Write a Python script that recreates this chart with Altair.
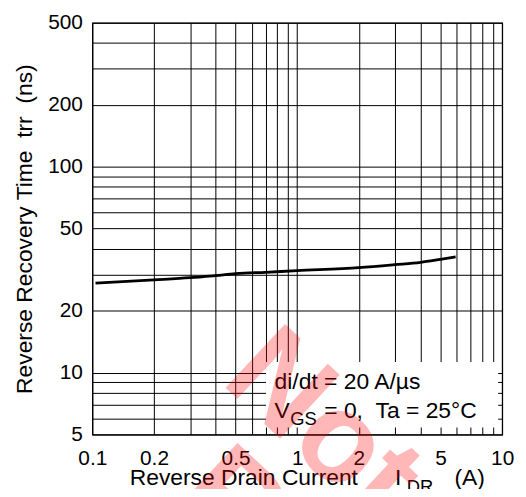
import altair as alt
import pandas as pd

# ---- data ----
x_current = [0.1036, 0.2, 0.3, 0.4, 0.5, 0.7, 1, 2, 3, 4, 5, 5.93]
y_trr = [27.2, 28.2, 28.9, 29.6, 30.2, 30.7, 31.25, 32.3, 33.4, 34.3, 35.5, 36.5]

x_grid = [0.1, 0.2, 0.3, 0.4, 0.5, 0.6, 0.7, 0.8, 0.9,
          1, 2, 3, 4, 5, 6, 7, 8, 9, 10]
y_grid = [5, 6, 7, 8, 9, 10, 20, 30, 40, 50, 60, 70, 80, 90,
          100, 200, 300, 400, 500]
x_labels = [0.1, 0.2, 0.5, 1, 2, 5, 10]
y_labels = [5, 10, 20, 50, 100, 200, 500]

FONT = "Liberation Sans"
W, H = 413, 415
TICK_FS = 21
TXT_FS = 23
SUB_FS = 18.5
NB = "\u00a0"

xscale = alt.Scale(type="log", domain=[0.1, 10], nice=False)
yscale = alt.Scale(type="log", domain=[5, 500], nice=False)


def label_expr(vals):
    return "indexof([" + ",".join(repr(v) for v in vals) + "], datum.value) >= 0 ? datum.label : ''"


common_axis = dict(grid=True, gridColor="black", gridOpacity=1, gridWidth=1,
                   ticks=False, tickSize=0, domain=False, labelFont=FONT,
                   labelFontSize=TICK_FS, labelColor="black", labelOverlap=False,
                   labelFlush=False, title=None, format="~g")

x_axis = alt.Axis(values=x_grid, labelExpr=label_expr(x_labels), labelPadding=30,
                  labelBaseline="alphabetic", **common_axis)
y_axis = alt.Axis(values=y_grid, labelExpr=label_expr(y_labels), labelPadding=10,
                  **common_axis)

curve_df = pd.DataFrame({"I": x_current, "trr": y_trr})
one = pd.DataFrame({"k": [0]})

box = alt.Chart(one).mark_rect(color="white").encode(
    x=alt.value(175), x2=alt.value(409), y=alt.value(342), y2=alt.value(408)
)

curve = alt.Chart(curve_df).mark_line(color="black", strokeWidth=2.8, interpolate="monotone").encode(
    x=alt.X("I:Q", scale=xscale, axis=x_axis),
    y=alt.Y("trr:Q", scale=yscale, axis=y_axis),
)


def txt(text, x, y, fs=TXT_FS, align="left", angle=0):
    kw = dict(text=text, font=FONT, fontSize=fs, color="black", align=align,
              baseline="alphabetic")
    if angle:
        kw["angle"] = angle
    return alt.Chart(one).mark_text(**kw).encode(x=alt.value(x), y=alt.value(y))


texts = [
    txt("di/dt = 20 A/\u00b5s", 183.7, 369, fs=23),
    txt("V", 183.7, 398.3, fs=23),
    txt("GS", 199.5, 405, fs=SUB_FS),
    txt("= 0," + NB * 2 + "Ta = 25\u00b0C", 233.7, 398.3, fs=23),
    txt("Reverse Drain Current", 37.7, 465.7),
    txt("I", 305, 465.7),
    txt("DR", 317, 474, fs=SUB_FS),
    txt("(A)", 365, 465.7),
    txt("Reverse Recovery Time" + NB * 2 + "trr" + NB * 2 + "(ns)", -61, 208,
        align="center", angle=270),
]


def wm(text, x, y):
    return alt.Chart(one).mark_text(
        text=text, font=FONT, fontSize=128, fontWeight="bold", color="red",
        opacity=0.28, align="left", baseline="alphabetic", angle=43
    ).encode(x=alt.value(x), y=alt.value(y))


watermark = [wm("Not", 128, 362), wm("Recommended", 80, 482)]

chart = alt.layer(box, curve, *texts, *watermark).properties(
    width=W, height=H,
    autosize=alt.AutoSizeParams(type="none"),
    padding={"left": 85, "top": 13, "right": 16, "bottom": 53},
    background="white",
).configure_view(stroke="black", strokeWidth=1.2)

chart.save("out.html", embed_options={"renderer": "svg", "actions": False})
